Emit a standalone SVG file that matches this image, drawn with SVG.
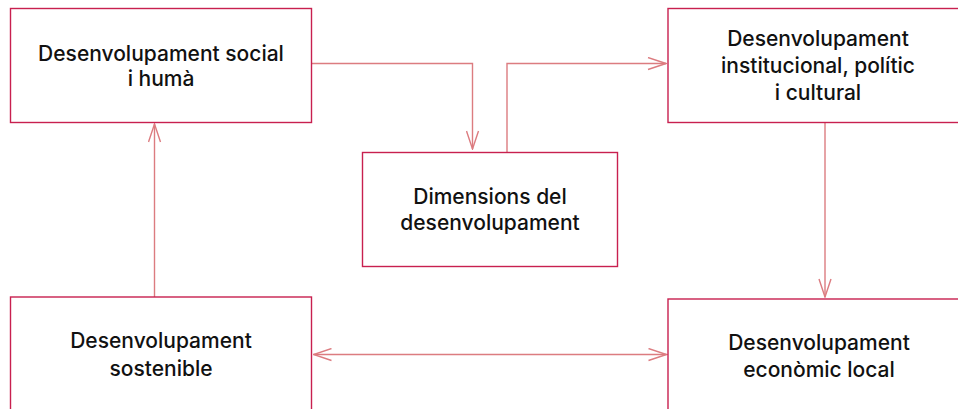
<svg xmlns="http://www.w3.org/2000/svg" width="958" height="409" viewBox="0 0 958 409">
<defs>
<style>
.box{fill:#fff;stroke:#c8204f;stroke-width:1.4}
.conn{fill:none;stroke:#dc7c80;stroke-width:1.4}
.t{font-family:Inter,"Liberation Sans",Arial,sans-serif;font-weight:500;font-size:21px;fill:#111;text-anchor:middle}
</style>
<marker id="ah" viewBox="0 0 20 14" refX="19" refY="7" markerWidth="20" markerHeight="14" markerUnits="userSpaceOnUse" orient="auto-start-reverse">
<path d="M1,1 L19,7 L1,13" fill="none" stroke="#dc7c80" stroke-width="1.4"/>
</marker>
</defs>
<rect width="958" height="409" fill="#fff"/>
<g id="connectors">
<path class="conn" d="M312,63.5 H472.5 V149" marker-end="url(#ah)"/>
<path class="conn" d="M507,152 V63.5 H666" marker-end="url(#ah)"/>
<path class="conn" d="M825,123 V297" marker-end="url(#ah)"/>
<path class="conn" d="M154.5,297 V124" marker-end="url(#ah)"/>
<path class="conn" d="M313.5,354.5 H666.5" marker-start="url(#ah)" marker-end="url(#ah)"/>
</g>
<g id="node-social">
<rect class="box" x="10.5" y="8.5" width="301" height="114"/>
<text class="t" x="161" y="61">Desenvolupament social</text>
<text class="t" x="161" y="86">i humà</text>
</g>
<g id="node-dimensions">
<rect class="box" x="362.5" y="152.5" width="255" height="114"/>
<text class="t" x="490" y="204">Dimensions del</text>
<text class="t" x="490" y="230">desenvolupament</text>
</g>
<g id="node-institucional">
<rect class="box" x="668" y="8.5" width="301" height="114"/>
<text class="t" x="818" y="46">Desenvolupament</text>
<text class="t" x="818" y="73">institucional, polític</text>
<text class="t" x="818" y="100">i cultural</text>
</g>
<g id="node-sostenible">
<rect class="box" x="10.5" y="297" width="301" height="120"/>
<text class="t" x="161" y="348">Desenvolupament</text>
<text class="t" x="161" y="376">sostenible</text>
</g>
<g id="node-economic">
<rect class="box" x="668" y="299" width="301" height="120"/>
<text class="t" x="819" y="350">Desenvolupament</text>
<text class="t" x="819" y="377">econòmic local</text>
</g>
</svg>
